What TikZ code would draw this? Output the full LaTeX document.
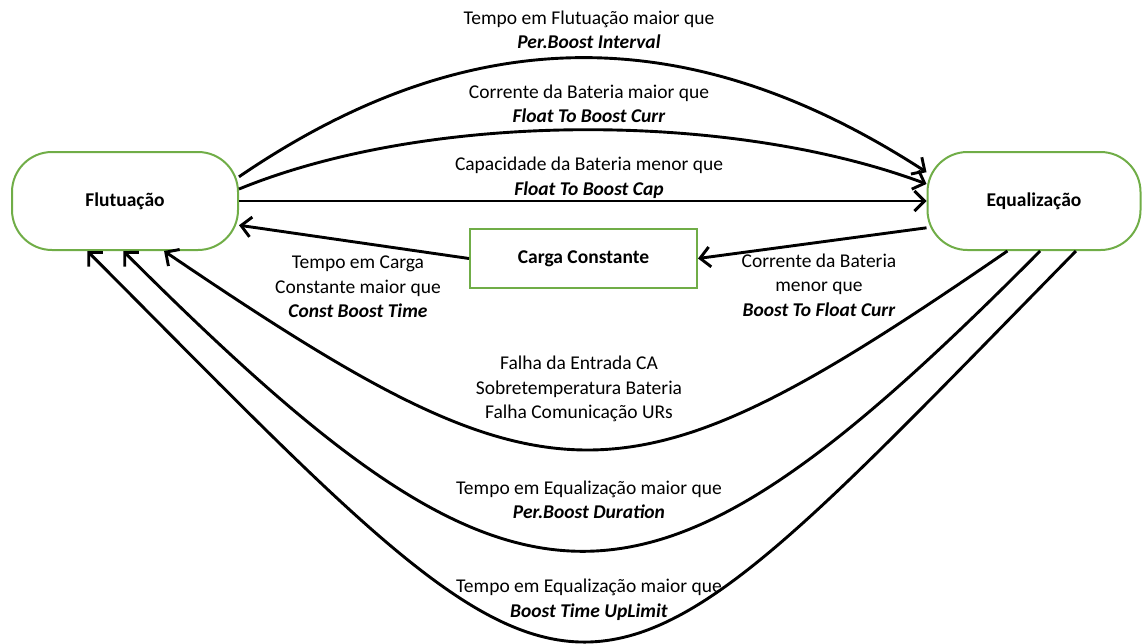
\documentclass[tikz,border=0pt]{standalone}
\usepackage{fontspec}
\setmainfont{Carlito}
\usetikzlibrary{arrows.meta}
\definecolor{stategreen}{RGB}{112,173,71}

\begin{document}
\begin{tikzpicture}[x=1pt, y=-1pt,
		every node/.style={font=\fontsize{19.5}{24.5}\selectfont, align=center},
		state/.style={draw=stategreen, line width=2pt, rounded corners=40pt, minimum height=98pt},
		box/.style={draw=stategreen, line width=2pt, minimum width=227pt, minimum height=59pt},
		arr/.style={line width=2.9pt, -{Straight Barb[length=10pt,width=20pt]}}]
		\useasboundingbox (0, 0) rectangle (1142, 643);

		\node[state, minimum width=226pt] (flu) at (125, 201) {\textbf{Flutuação}};
		\node[state, minimum width=213pt] (equ) at (1034, 201) {\textbf{Equalização}};
		\node[box] (car) at (583.5, 258.5) {\textbf{Carga Constante}};

		\node (l1) at (589, 30) {Tempo em Flutuação maior que\\\textbf{\textit{Per.Boost Interval}}};
		\node (l2) at (589, 104) {Corrente da Bateria maior que\\\textbf{\textit{Float To Boost Curr}}};
		\node (l3) at (589, 178) {Capacidade da Bateria menor que\\\textbf{\textit{Float To Boost Cap}}};
		\node (l4) at (358, 287) {Tempo em Carga\\Constante maior que\\\textbf{\textit{Const Boost Time}}};
		\node (l5) at (819, 285) {Corrente da Bateria\\menor que\\\textbf{\textit{Boost To Float Curr}}};
		\node (l6) at (579, 389) {Falha da Entrada CA\\Sobretemperatura Bateria\\Falha Comunicação URs};
		\node (l7) at (589, 500) {Tempo em Equalização maior que\\\textbf{\textit{Per.Boost Duration}}};
		\node (l8) at (589, 600) {Tempo em Equalização maior que\\\textbf{\textit{Boost Time UpLimit}}};

		% Flutuacao -> Equalizacao
		\draw[arr] (flu.12) .. controls (470, 19) and (690, 19) .. (equ.165);
		\draw[arr] (flu.6) .. controls (430, 111) and (730, 111) .. (equ.171);
		\draw[arr] (flu.east) -- (equ.west);

		% via Carga Constante
		\draw[arr] (equ.194) -- (car.east);
		\draw[arr] (car.west) -- (flu.-12);

		% Equalizacao -> Flutuacao
		\draw[arr] (equ.-118) .. controls (622, 516) and (555, 516) .. (flu.-52);
		\draw[arr] (equ.-83) .. controls (643, 651) and (524, 651) .. (flu.-92);
		\draw[arr] (equ.-50) .. controls (565, 772) and (606, 772) .. (flu.-127);
	\end{tikzpicture}
\end{document}
